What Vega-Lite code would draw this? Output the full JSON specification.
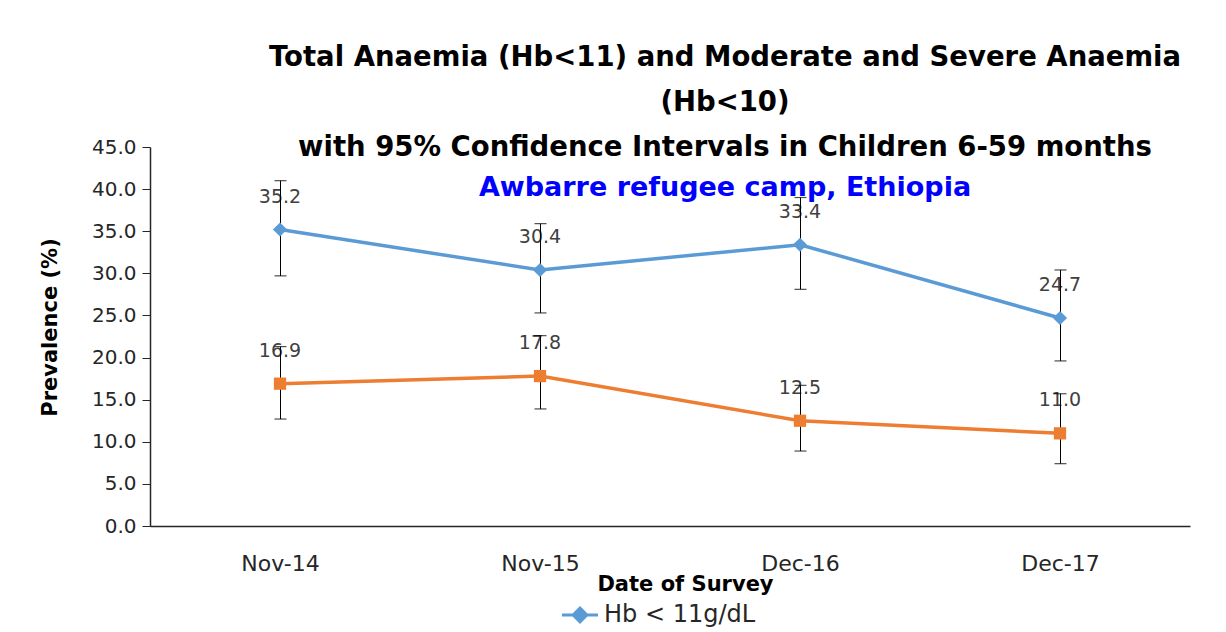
{
  "$schema": "https://vega.github.io/schema/vega-lite/v6.json",
  "width": 1040,
  "height": 379,
  "autosize": {"type": "none"},
  "padding": {"left": 150, "top": 147, "right": 36, "bottom": 106},
  "background": "white",
  "config": {
    "view": {"stroke": null},
    "font": "DejaVu Sans"
  },
  "title": {
    "text": ["Total Anaemia (Hb<11) and Moderate and Severe Anaemia", "(Hb<10)", "with 95% Confidence Intervals in Children 6-59 months"],
    "subtitle": "Awbarre refugee camp, Ethiopia",
    "anchor": "middle",
    "dx": 55,
    "font": "DejaVu Sans",
    "fontSize": 27.5,
    "fontWeight": "bold",
    "color": "#000000",
    "lineHeight": 45,
    "subtitleFont": "DejaVu Sans",
    "subtitleFontSize": 27,
    "subtitleFontWeight": "bold",
    "subtitleColor": "#0000FF",
    "subtitlePadding": 14,
    "offset": -64
  },
  "data": {
    "values": [
      {"date": "Nov-14", "series": "Hb < 11g/dL", "value": 35.2, "lo": 29.7, "hi": 41.0},
      {"date": "Nov-15", "series": "Hb < 11g/dL", "value": 30.4, "lo": 25.3, "hi": 35.9},
      {"date": "Dec-16", "series": "Hb < 11g/dL", "value": 33.4, "lo": 28.1, "hi": 39.0},
      {"date": "Dec-17", "series": "Hb < 11g/dL", "value": 24.7, "lo": 19.6, "hi": 30.4},
      {"date": "Nov-14", "series": "Hb < 10g/dL", "value": 16.9, "lo": 12.7, "hi": 21.3},
      {"date": "Nov-15", "series": "Hb < 10g/dL", "value": 17.8, "lo": 13.9, "hi": 22.6},
      {"date": "Dec-16", "series": "Hb < 10g/dL", "value": 12.5, "lo": 8.9, "hi": 16.7},
      {"date": "Dec-17", "series": "Hb < 10g/dL", "value": 11.0, "lo": 7.4, "hi": 15.7}
    ]
  },
  "encoding": {
    "x": {
      "field": "date",
      "type": "nominal",
      "sort": ["Nov-14", "Nov-15", "Dec-16", "Dec-17"],
      "scale": {"type": "point", "padding": 0.5},
      "axis": {
        "title": "Date of Survey",
        "titleFont": "DejaVu Sans",
        "titleFontSize": 21,
        "titleFontWeight": "bold",
        "titleColor": "#000000",
        "titleX": 535,
        "titleY": 58,
        "titleBaseline": "middle",
        "titleAnchor": "middle",
        "labelAngle": 0,
        "labelFont": "DejaVu Sans",
        "labelFontSize": 22,
        "labelColor": "#262626",
        "labelPadding": 27,
        "ticks": false,
        "domainColor": "#262626",
        "domainWidth": 1.5,
        "grid": false
      }
    }
  },
  "layer": [
    {
      "mark": {"type": "text", "dy": -33, "fontSize": 19, "color": "#404040", "font": "DejaVu Sans"},
      "encoding": {
        "y": {
          "field": "value",
          "type": "quantitative",
          "scale": {"domain": [0, 45]},
          "axis": {
            "title": "Prevalence (%)",
            "titleFont": "DejaVu Sans",
            "titleFontSize": 21,
            "titleFontWeight": "bold",
            "titleColor": "#000000",
            "titleAngle": -90,
            "titleX": -100,
            "titleY": 180,
            "titleBaseline": "middle",
            "titleAlign": "center",
            "values": [0, 5, 10, 15, 20, 25, 30, 35, 40, 45],
            "format": ".1f",
            "labelFont": "DejaVu Sans",
            "labelFontSize": 20,
            "labelColor": "#262626",
            "labelPadding": 6,
            "tickSize": 8,
            "tickColor": "#262626",
            "domainColor": "#262626",
            "domainWidth": 1.5,
            "grid": false
          }
        },
        "text": {"field": "value", "type": "quantitative", "format": ".1f"}
      }
    },
    {
      "mark": {"type": "rule", "color": "#000000", "strokeWidth": 1, "xOffset": 0.5},
      "encoding": {
        "y": {"field": "lo", "type": "quantitative"},
        "y2": {"field": "hi"}
      }
    },
    {
      "mark": {"type": "tick", "color": "#000000", "size": 12, "thickness": 1.2, "orient": "horizontal", "xOffset": 0.5},
      "encoding": {"y": {"field": "lo", "type": "quantitative"}}
    },
    {
      "mark": {"type": "tick", "color": "#000000", "size": 12, "thickness": 1.2, "orient": "horizontal", "xOffset": 0.5},
      "encoding": {"y": {"field": "hi", "type": "quantitative"}}
    },
    {
      "mark": {"type": "line", "strokeWidth": 3.5},
      "encoding": {
        "y": {"field": "value", "type": "quantitative"},
        "color": {
          "field": "series",
          "type": "nominal",
          "sort": ["Hb < 11g/dL", "Hb < 10g/dL"],
          "scale": {"domain": ["Hb < 11g/dL", "Hb < 10g/dL"], "range": ["#5B9BD5", "#ED7D31"]},
          "legend": {
            "title": null,
            "orient": "none",
            "legendX": 410,
            "legendY": 448,
            "direction": "vertical",
            "values": ["Hb < 11g/dL"],
            "labelFont": "DejaVu Sans",
            "labelFontSize": 24,
            "labelColor": "#262626",
            "symbolType": "M-1,0L1,0M0,-0.38L0.38,0L0,0.38L-0.38,0Z",
            "symbolSize": 1300,
            "symbolStrokeWidth": 3,
            "symbolStrokeColor": "#5B9BD5",
            "symbolFillColor": "#5B9BD5",
            "symbolOpacity": 1,
            "labelOffset": 4
          }
        }
      }
    },
    {
      "transform": [{"filter": "datum.series === 'Hb < 11g/dL'"}],
      "mark": {"type": "point", "filled": true, "opacity": 1, "shape": "diamond", "size": 200},
      "encoding": {
        "y": {"field": "value", "type": "quantitative"},
        "color": {"field": "series", "type": "nominal", "legend": null}
      }
    },
    {
      "transform": [{"filter": "datum.series === 'Hb < 10g/dL'"}],
      "mark": {"type": "point", "filled": true, "opacity": 1, "shape": "square", "size": 150},
      "encoding": {
        "y": {"field": "value", "type": "quantitative"},
        "color": {"field": "series", "type": "nominal", "legend": null}
      }
    }
  ]
}
